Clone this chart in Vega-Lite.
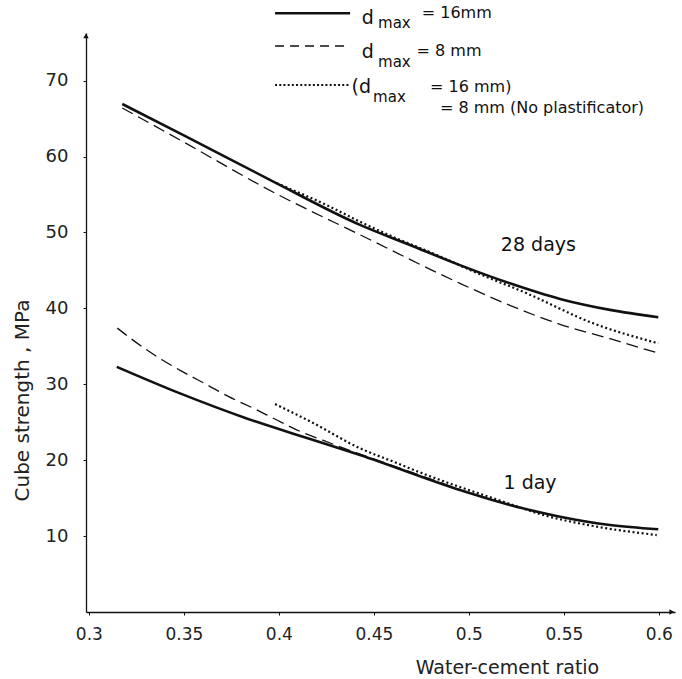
{
  "$schema": "https://vega.github.io/schema/vega-lite/v6.json",
  "width": 589,
  "height": 579,
  "autosize": "none",
  "padding": {"left": 86, "top": 33, "right": 7, "bottom": 67},
  "background": "white",
  "config": {"view": {"stroke": null}, "font": "DejaVu Sans"},
  "datasets": {
    "curves": [
      {"series": "16", "age": "28", "x": 0.3176, "y": 66.93},
      {"series": "16", "age": "28", "x": 0.35, "y": 62.8},
      {"series": "16", "age": "28", "x": 0.3971, "y": 56.7},
      {"series": "16", "age": "28", "x": 0.4427, "y": 51.0},
      {"series": "16", "age": "28", "x": 0.469, "y": 48.35},
      {"series": "16", "age": "28", "x": 0.4953, "y": 45.7},
      {"series": "16", "age": "28", "x": 0.5216, "y": 43.3},
      {"series": "16", "age": "28", "x": 0.548, "y": 41.24},
      {"series": "16", "age": "28", "x": 0.5743, "y": 39.8},
      {"series": "16", "age": "28", "x": 0.5997, "y": 38.83},
      {"series": "8", "age": "28", "x": 0.3176, "y": 66.4},
      {"series": "8", "age": "28", "x": 0.35, "y": 61.9},
      {"series": "8", "age": "28", "x": 0.3971, "y": 55.3},
      {"series": "8", "age": "28", "x": 0.4427, "y": 49.7},
      {"series": "8", "age": "28", "x": 0.4953, "y": 43.3},
      {"series": "8", "age": "28", "x": 0.5216, "y": 40.4},
      {"series": "8", "age": "28", "x": 0.548, "y": 37.9},
      {"series": "8", "age": "28", "x": 0.5743, "y": 36.0},
      {"series": "8", "age": "28", "x": 0.5997, "y": 34.1},
      {"series": "nopl", "age": "28", "x": 0.3989, "y": 56.48},
      {"series": "nopl", "age": "28", "x": 0.4269, "y": 53.4},
      {"series": "nopl", "age": "28", "x": 0.4427, "y": 51.42},
      {"series": "nopl", "age": "28", "x": 0.4603, "y": 49.4},
      {"series": "nopl", "age": "28", "x": 0.4831, "y": 47.04},
      {"series": "nopl", "age": "28", "x": 0.5006, "y": 45.06},
      {"series": "nopl", "age": "28", "x": 0.5305, "y": 41.98},
      {"series": "nopl", "age": "28", "x": 0.5655, "y": 38.03},
      {"series": "nopl", "age": "28", "x": 0.5997, "y": 35.4},
      {"series": "16", "age": "1", "x": 0.3147, "y": 32.3},
      {"series": "16", "age": "1", "x": 0.348, "y": 28.8},
      {"series": "16", "age": "1", "x": 0.3831, "y": 25.5},
      {"series": "16", "age": "1", "x": 0.4181, "y": 22.66},
      {"series": "16", "age": "1", "x": 0.4427, "y": 20.68},
      {"series": "16", "age": "1", "x": 0.4953, "y": 16.07},
      {"series": "16", "age": "1", "x": 0.5216, "y": 14.1},
      {"series": "16", "age": "1", "x": 0.548, "y": 12.56},
      {"series": "16", "age": "1", "x": 0.5743, "y": 11.46},
      {"series": "16", "age": "1", "x": 0.5997, "y": 10.9},
      {"series": "8", "age": "1", "x": 0.315, "y": 37.4},
      {"series": "8", "age": "1", "x": 0.3217, "y": 36.1},
      {"series": "8", "age": "1", "x": 0.3387, "y": 33.2},
      {"series": "8", "age": "1", "x": 0.3483, "y": 31.8},
      {"series": "8", "age": "1", "x": 0.3632, "y": 29.8},
      {"series": "8", "age": "1", "x": 0.3734, "y": 28.4},
      {"series": "8", "age": "1", "x": 0.3878, "y": 26.7},
      {"series": "8", "age": "1", "x": 0.3989, "y": 25.3},
      {"series": "8", "age": "1", "x": 0.412, "y": 23.7},
      {"series": "8", "age": "1", "x": 0.4234, "y": 22.6},
      {"series": "8", "age": "1", "x": 0.4427, "y": 20.8},
      {"series": "8", "age": "1", "x": 0.47, "y": 18.4},
      {"series": "8", "age": "1", "x": 0.4953, "y": 16.1},
      {"series": "nopl", "age": "1", "x": 0.398, "y": 27.4},
      {"series": "nopl", "age": "1", "x": 0.4181, "y": 24.9},
      {"series": "nopl", "age": "1", "x": 0.4427, "y": 21.57},
      {"series": "nopl", "age": "1", "x": 0.4603, "y": 19.8},
      {"series": "nopl", "age": "1", "x": 0.4778, "y": 18.05},
      {"series": "nopl", "age": "1", "x": 0.5182, "y": 14.53},
      {"series": "nopl", "age": "1", "x": 0.5392, "y": 12.78},
      {"series": "nopl", "age": "1", "x": 0.5655, "y": 11.33},
      {"series": "nopl", "age": "1", "x": 0.5989, "y": 10.14}
    ],
    "legendLines": [
      {"series": "16", "x": 0.398, "x2": 0.4375, "y": 78.88},
      {"series": "8", "x": 0.398, "x2": 0.4375, "y": 74.57},
      {"series": "nopl", "x": 0.398, "x2": 0.4375, "y": 69.43}
    ],
    "legendD": [
      {"t": "d", "x": 0.4436, "y": 77.47},
      {"t": "d", "x": 0.4436, "y": 73.0},
      {"t": "(d", "x": 0.4383, "y": 68.38}
    ],
    "legendSub": [
      {"t": "max", "x": 0.4522, "y": 76.9},
      {"t": "max", "x": 0.4522, "y": 71.85},
      {"t": "max", "x": 0.4496, "y": 67.23}
    ],
    "legendMain": [
      {"t": "= 16mm", "x": 0.4752, "y": 78.22},
      {"t": "=  8 mm", "x": 0.4725, "y": 73.25},
      {"t": "= 16 mm)", "x": 0.4796, "y": 68.55},
      {"t": "=  8 mm (No plastificator)", "x": 0.4848, "y": 65.74}
    ],
    "curveLabels": [
      {"t": "28  days", "x": 0.5366, "y": 48.35},
      {"t": "1 day", "x": 0.5322, "y": 16.96}
    ],
    "arrowY": [{"x": 0.2985, "y": 75.9}],
    "arrowX": [{"x": 0.6068, "y": 0}]
  },
  "encoding": {
    "x": {
      "field": "x", "type": "quantitative",
      "scale": {"domain": [0.2985, 0.6085], "nice": false, "zero": false},
      "axis": {
        "values": [0.3, 0.35, 0.4, 0.45, 0.5, 0.55, 0.6],
        "format": ".2~f", "grid": false, "labelFlush": false, "labelOverlap": false,
        "domainColor": "#111", "domainWidth": 1.6, "tickColor": "#111", "tickSize": 3,
        "labelFontSize": 17, "labelPadding": 11, "labelColor": "#222", "labelFont": "DejaVu Sans",
        "title": "Water-cement ratio", "titleFontSize": 19, "titleFontWeight": "normal",
        "titleColor": "#222", "titleFont": "DejaVu Sans",
        "titleX": 421, "titleY": 55, "titleBaseline": "middle", "titleAlign": "center"
      }
    },
    "y": {
      "field": "y", "type": "quantitative",
      "scale": {"domain": [0, 76.28], "nice": false, "zero": false},
      "axis": {
        "values": [10, 20, 30, 40, 50, 60, 70],
        "grid": false, "labelFlush": false, "labelOverlap": false,
        "domainColor": "#111", "domainWidth": 1.3, "tickColor": "#111", "tickSize": 3,
        "labelFontSize": 18, "labelPadding": 15, "labelColor": "#222", "labelFont": "DejaVu Sans",
        "title": "Cube strength ,  MPa", "titleFontSize": 20, "titleFontWeight": "normal",
        "titleColor": "#222", "titleFont": "DejaVu Sans",
        "titleX": -64, "titleY": 367, "titleAngle": -90, "titleBaseline": "middle", "titleAlign": "center"
      }
    }
  },
  "layer": [
    {
      "data": {"name": "curves"},
      "transform": [{"filter": "datum.series === '16'"}],
      "mark": {"type": "line", "interpolate": "monotone", "color": "#111", "strokeWidth": 2.6},
      "encoding": {"detail": {"field": "age"}}
    },
    {
      "data": {"name": "curves"},
      "transform": [{"filter": "datum.series === '8'"}],
      "mark": {"type": "line", "interpolate": "monotone", "color": "#111", "strokeWidth": 1.3, "strokeDash": [12, 6]},
      "encoding": {"detail": {"field": "age"}}
    },
    {
      "data": {"name": "curves"},
      "transform": [{"filter": "datum.series === 'nopl'"}],
      "mark": {"type": "line", "interpolate": "monotone", "color": "#111", "strokeWidth": 2.2, "strokeDash": [2, 2.6]},
      "encoding": {"detail": {"field": "age"}}
    },
    {
      "data": {"name": "legendLines"},
      "transform": [{"filter": "datum.series === '16'"}],
      "mark": {"type": "rule", "color": "#111", "strokeWidth": 2.6},
      "encoding": {"x2": {"field": "x2"}}
    },
    {
      "data": {"name": "legendLines"},
      "transform": [{"filter": "datum.series === '8'"}],
      "mark": {"type": "rule", "color": "#111", "strokeWidth": 1.3, "strokeDash": [9, 6]},
      "encoding": {"x2": {"field": "x2"}}
    },
    {
      "data": {"name": "legendLines"},
      "transform": [{"filter": "datum.series === 'nopl'"}],
      "mark": {"type": "rule", "color": "#111", "strokeWidth": 2.2, "strokeDash": [2, 2.2]},
      "encoding": {"x2": {"field": "x2"}}
    },
    {
      "data": {"name": "legendD"},
      "mark": {"type": "text", "align": "left", "baseline": "alphabetic", "fontSize": 19, "color": "#111", "font": "DejaVu Sans"},
      "encoding": {"text": {"field": "t"}}
    },
    {
      "data": {"name": "legendSub"},
      "mark": {"type": "text", "align": "left", "baseline": "alphabetic", "fontSize": 15, "color": "#111", "font": "DejaVu Sans"},
      "encoding": {"text": {"field": "t"}}
    },
    {
      "data": {"name": "legendMain"},
      "mark": {"type": "text", "align": "left", "baseline": "alphabetic", "fontSize": 16, "color": "#111", "font": "DejaVu Sans"},
      "encoding": {"text": {"field": "t"}}
    },
    {
      "data": {"name": "curveLabels"},
      "mark": {"type": "text", "align": "center", "baseline": "middle", "fontSize": 19, "color": "#111", "font": "DejaVu Sans"},
      "encoding": {"text": {"field": "t"}}
    },
    {
      "data": {"name": "arrowY"},
      "mark": {"type": "point", "filled": true, "fill": "#111", "stroke": null, "size": 30, "opacity": 1, "shape": "triangle-up"}
    },
    {
      "data": {"name": "arrowX"},
      "mark": {"type": "point", "filled": true, "fill": "#111", "stroke": null, "size": 30, "opacity": 1, "shape": "triangle-right"}
    }
  ]
}
